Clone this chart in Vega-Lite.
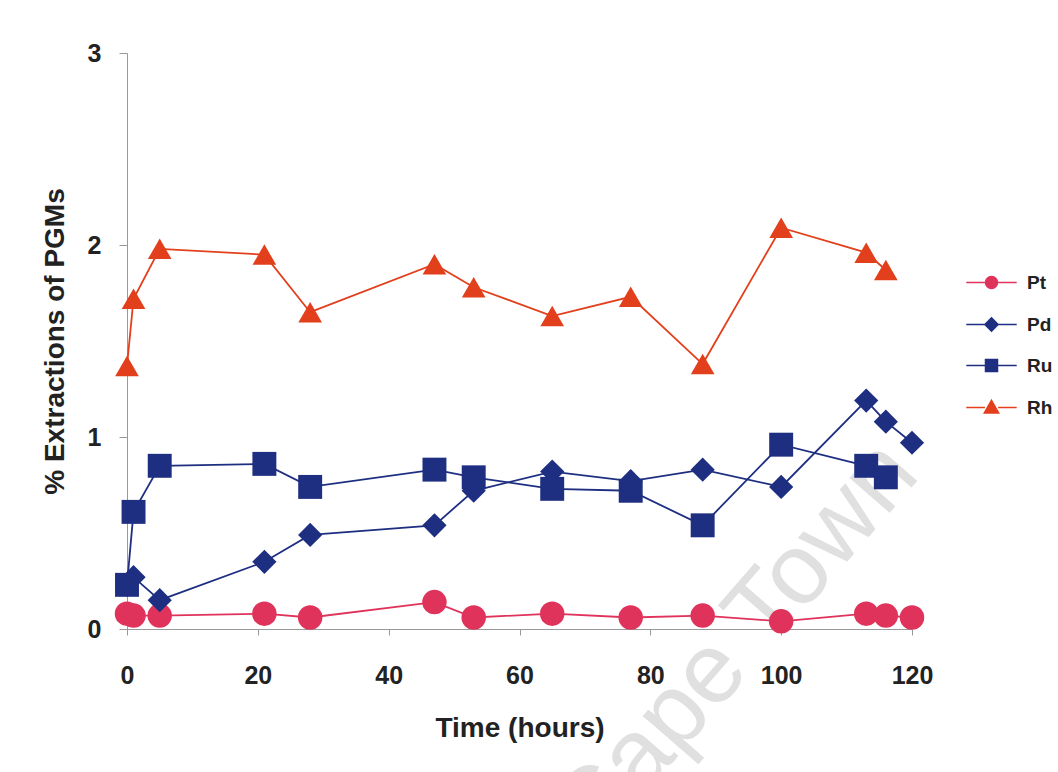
{
  "$schema": "https://vega.github.io/schema/vega-lite/v6.json",
  "width": 785,
  "height": 576,
  "autosize": {"type": "none"},
  "padding": {"left": 127, "top": 53, "right": 146, "bottom": 143},
  "background": "white",
  "config": {"view": {"stroke": null}, "font": "Liberation Sans", "numberFormat": "d"},
  "resolve": {"legend": {"color": "independent"}},
  "datasets": {
    "series": [
      {"t": 0, "v": 0.08, "metal": "Pt"}, {"t": 1, "v": 0.07, "metal": "Pt"}, {"t": 5, "v": 0.07, "metal": "Pt"},
      {"t": 21, "v": 0.08, "metal": "Pt"}, {"t": 28, "v": 0.06, "metal": "Pt"}, {"t": 47, "v": 0.14, "metal": "Pt"},
      {"t": 53, "v": 0.06, "metal": "Pt"}, {"t": 65, "v": 0.08, "metal": "Pt"}, {"t": 77, "v": 0.06, "metal": "Pt"},
      {"t": 88, "v": 0.07, "metal": "Pt"}, {"t": 100, "v": 0.04, "metal": "Pt"}, {"t": 113, "v": 0.08, "metal": "Pt"},
      {"t": 116, "v": 0.07, "metal": "Pt"}, {"t": 120, "v": 0.06, "metal": "Pt"},
      {"t": 0, "v": 0.23, "metal": "Pd"}, {"t": 1, "v": 0.27, "metal": "Pd"}, {"t": 5, "v": 0.15, "metal": "Pd"},
      {"t": 21, "v": 0.35, "metal": "Pd"}, {"t": 28, "v": 0.49, "metal": "Pd"}, {"t": 47, "v": 0.54, "metal": "Pd"},
      {"t": 53, "v": 0.72, "metal": "Pd"}, {"t": 65, "v": 0.82, "metal": "Pd"}, {"t": 77, "v": 0.77, "metal": "Pd"},
      {"t": 88, "v": 0.83, "metal": "Pd"}, {"t": 100, "v": 0.74, "metal": "Pd"}, {"t": 113, "v": 1.19, "metal": "Pd"},
      {"t": 116, "v": 1.08, "metal": "Pd"}, {"t": 120, "v": 0.97, "metal": "Pd"},
      {"t": 0, "v": 0.23, "metal": "Ru"}, {"t": 1, "v": 0.61, "metal": "Ru"}, {"t": 5, "v": 0.85, "metal": "Ru"},
      {"t": 21, "v": 0.86, "metal": "Ru"}, {"t": 28, "v": 0.74, "metal": "Ru"}, {"t": 47, "v": 0.83, "metal": "Ru"},
      {"t": 53, "v": 0.79, "metal": "Ru"}, {"t": 65, "v": 0.73, "metal": "Ru"}, {"t": 77, "v": 0.72, "metal": "Ru"},
      {"t": 88, "v": 0.54, "metal": "Ru"}, {"t": 100, "v": 0.96, "metal": "Ru"}, {"t": 113, "v": 0.85, "metal": "Ru"},
      {"t": 116, "v": 0.79, "metal": "Ru"},
      {"t": 0, "v": 1.37, "metal": "Rh"}, {"t": 1, "v": 1.72, "metal": "Rh"}, {"t": 5, "v": 1.98, "metal": "Rh"},
      {"t": 21, "v": 1.95, "metal": "Rh"}, {"t": 28, "v": 1.65, "metal": "Rh"}, {"t": 47, "v": 1.90, "metal": "Rh"},
      {"t": 53, "v": 1.78, "metal": "Rh"}, {"t": 65, "v": 1.63, "metal": "Rh"}, {"t": 77, "v": 1.73, "metal": "Rh"},
      {"t": 88, "v": 1.38, "metal": "Rh"}, {"t": 100, "v": 2.09, "metal": "Rh"}, {"t": 113, "v": 1.96, "metal": "Rh"},
      {"t": 116, "v": 1.87, "metal": "Rh"}
    ],
    "watermark": [{"label": "Cape Town"}]
  },
  "layer": [
    {
      "data": {"name": "watermark"},
      "mark": {"type": "text", "fontSize": 100, "angle": -49, "align": "center", "baseline": "middle", "font": "Liberation Sans", "color": "#e0e0e0"},
      "encoding": {
        "x": {"datum": 93, "type": "quantitative", "scale": {"domain": [0, 120], "nice": false, "zero": false}},
        "y": {"datum": -0.08, "type": "quantitative", "scale": {"domain": [0, 3], "nice": false}},
        "text": {"field": "label", "type": "nominal"}
      }
    },
    {
      "data": {"name": "series"},
      "mark": {"type": "line", "strokeWidth": 1.8},
      "encoding": {
        "x": {"field": "t", "type": "quantitative", "scale": {"domain": [0, 120], "nice": false, "zero": false},
          "axis": {
            "title": "Time (hours)", "values": [0, 20, 40, 60, 80, 100, 120], "format": "d", "grid": false,
            "domainColor": "#999999", "tickColor": "#999999", "tickSize": 6, "labelPadding": 28,
            "labelFlush": false, "labelFontSize": 25, "labelFontWeight": "bold", "labelColor": "#222222",
            "titleFontSize": 28, "titleFontWeight": "bold", "titleColor": "#222222", "titlePadding": 26
          }
        },
        "y": {"field": "v", "type": "quantitative", "scale": {"domain": [0, 3], "nice": false},
          "axis": {
            "title": "% Extractions of PGMs", "values": [0, 1, 2, 3], "format": "d", "grid": false,
            "domainColor": "#999999", "tickColor": "#999999", "tickSize": 8, "labelPadding": 18,
            "labelFlush": false, "labelFontSize": 25, "labelFontWeight": "bold", "labelColor": "#222222",
            "titleFontSize": 28, "titleFontWeight": "bold", "titleColor": "#222222", "titlePadding": 18
          }
        },
        "color": {
          "field": "metal", "type": "nominal",
          "scale": {"domain": ["Pt", "Pd", "Ru", "Rh"], "range": ["#e0335c", "#1e2f82", "#1e2f82", "#e2401c"]},
          "legend": null
        }
      }
    },
    {
      "data": {"name": "series"},
      "mark": {"type": "point", "filled": true, "opacity": 1},
      "encoding": {
        "x": {"field": "t", "type": "quantitative",
          "axis": {
            "title": "Time (hours)", "values": [0, 20, 40, 60, 80, 100, 120], "format": "d", "grid": false,
            "domainColor": "#999999", "tickColor": "#999999", "tickSize": 6, "labelPadding": 28,
            "labelFlush": false, "labelFontSize": 25, "labelFontWeight": "bold", "labelColor": "#222222",
            "titleFontSize": 28, "titleFontWeight": "bold", "titleColor": "#222222", "titlePadding": 26
          }
        },
        "y": {"field": "v", "type": "quantitative",
          "axis": {
            "title": "% Extractions of PGMs", "values": [0, 1, 2, 3], "format": "d", "grid": false,
            "domainColor": "#999999", "tickColor": "#999999", "tickSize": 8, "labelPadding": 18,
            "labelFlush": false, "labelFontSize": 25, "labelFontWeight": "bold", "labelColor": "#222222",
            "titleFontSize": 28, "titleFontWeight": "bold", "titleColor": "#222222", "titlePadding": 18
          }
        },
        "color": {
          "field": "metal", "type": "nominal",
          "legend": {
            "title": null, "orient": "none", "legendX": 855, "legendY": 220, "padding": 0,
            "labelFontSize": 19, "labelFontWeight": "bold", "labelColor": "#222222",
            "symbolSize": 144, "labelOffset": 26, "rowPadding": 21,
            "encoding": {
              "symbols": {
                "shape": {"value": {"expr": "datum.value === 'Pt' ? 'M-4.2,0H-1M1,0H4.2M1,0A1,1,0,1,1,-1,0A1,1,0,1,1,1,0Z' : datum.value === 'Pd' ? 'M-4.2,0H-1.1M1.1,0H4.2M0,-1.1L1.1,0L0,1.1L-1.1,0Z' : datum.value === 'Ru' ? 'M-4.2,0H-1M1,0H4.2M-1,-1H1V1H-1Z' : 'M-4.2,0H-1.1M1.1,0H4.2M0,-1.2L1.2,0.9L-1.2,0.9Z'"}},
                "size": {"value": 144},
                "stroke": {"value": {"expr": "datum.value === 'Pt' ? '#e0335c' : datum.value === 'Rh' ? '#e2401c' : '#1e2f82'"}},
                "strokeWidth": {"value": 1.5}
              }
            }
          }
        },
        "shape": {
          "field": "metal", "type": "nominal",
          "scale": {"domain": ["Pt", "Pd", "Ru", "Rh"], "range": ["circle", "diamond", "square", "triangle-up"]},
          "legend": null
        },
        "size": {
          "field": "metal", "type": "ordinal",
          "scale": {"domain": ["Pt", "Pd", "Ru", "Rh"], "range": [600, 560, 600, 700]},
          "legend": null
        }
      }
    }
  ]
}
